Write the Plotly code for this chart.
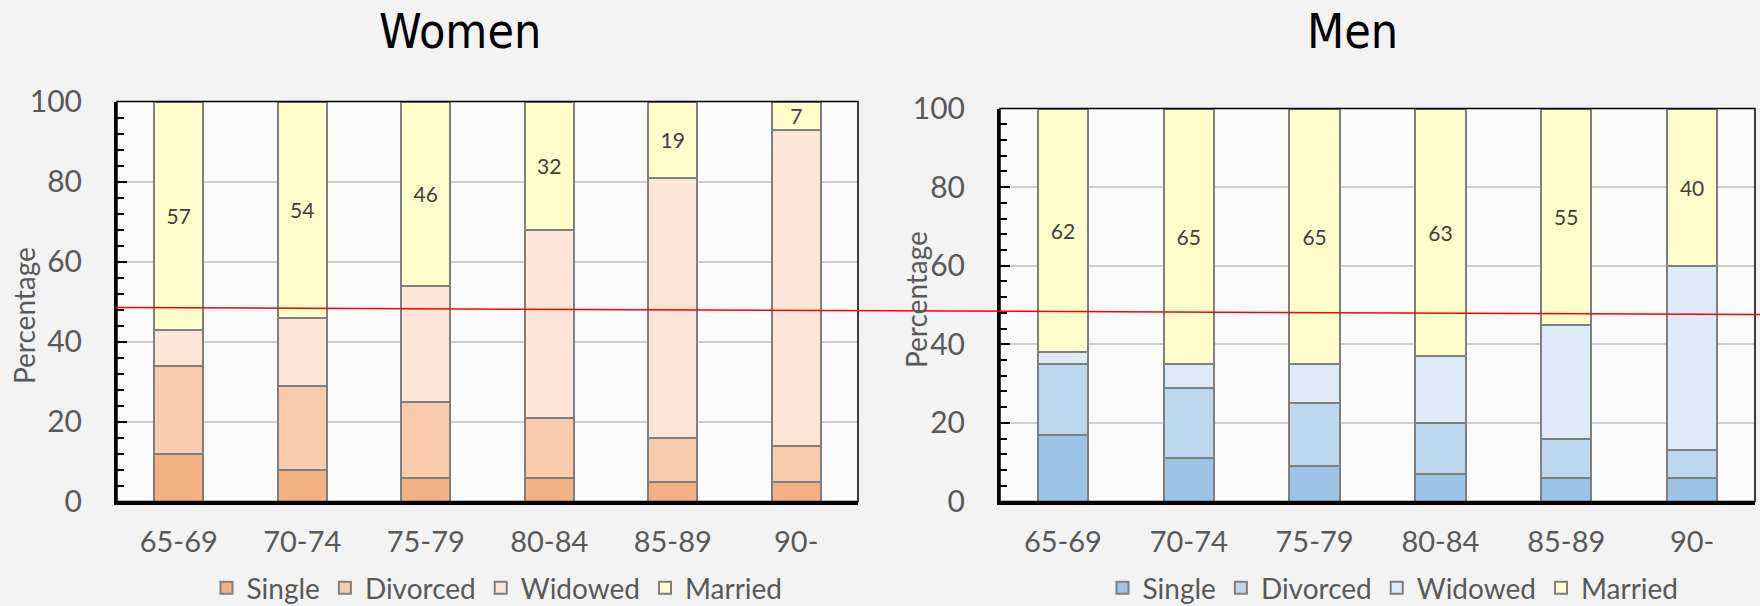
import plotly.graph_objects as go

# Age groups shown on both panels
age_groups = ["65-69", "70-74", "75-79", "80-84", "85-89", "90-"]
statuses = ["Single", "Divorced", "Widowed", "Married"]

# Marital status shares (%) by age group
women_single = [12, 8, 6, 6, 5, 5]
women_divorced = [22, 21, 19, 15, 11, 9]
women_widowed = [9, 17, 29, 47, 65, 79]
women_married = [57, 54, 46, 32, 19, 7]

men_single = [17, 11, 9, 7, 6, 6]
men_divorced = [18, 18, 16, 13, 10, 7]
men_widowed = [3, 6, 10, 17, 29, 47]
men_married = [62, 65, 65, 63, 55, 40]

y_ticks = [0, 20, 40, 60, 80, 100]

women_colors = ["#F4B183", "#F8CBAD", "#FBE5D6", "#FFFFCC"]
men_colors = ["#9DC3E6", "#BDD7EE", "#DEEBF7", "#FFFFCC"]

W, H = 1760, 606
FONT = "Lato, 'Open Sans', sans-serif"
TITLE_FONT = "'Liberation Sans Narrow', 'DejaVu Sans Condensed', Lato, sans-serif"
GREY = "#595959"


def px_x(p):
    return p / W


def px_y(p):
    return 1 - p / H


fig = go.Figure()

panels = [
    ("x", "y", "legend",
     [women_single, women_divorced, women_widowed, women_married], women_colors),
    ("x2", "y2", "legend2",
     [men_single, men_divorced, men_widowed, men_married], men_colors),
]

for xa, ya, leg, series, colors in panels:
    for name, values, color in zip(statuses, series, colors):
        is_married = name == "Married"
        fig.add_trace(go.Bar(
            x=age_groups, y=values, name=name,
            xaxis=xa, yaxis=ya, legend=leg,
            width=0.4,
            marker=dict(color=color, line=dict(color="#7F7F7F", width=2)),
            text=values if is_married else None,
            texttemplate="%{text}" if is_married else None,
            textposition="inside" if is_married else "none",
            insidetextanchor="middle",
            textangle=0,
            constraintext="none",
            textfont=dict(family=FONT, size=21, color="#404040"),
            hoverinfo="skip",
        ))

common_x = dict(
    type="category", range=[-0.5, 5.5],
    showline=True, linecolor="black", linewidth=3,
    ticks="", showgrid=False, zeroline=False,
    tickfont=dict(family=FONT, size=29, color=GREY),
    ticklabelstandoff=13,
    automargin=False,
)
common_y = dict(
    range=[0, 100], tickvals=y_ticks,
    showline=True, linecolor="black", linewidth=3,
    ticks="inside", ticklen=10, tickwidth=2, tickcolor="black",
    minor=dict(dtick=4, tick0=0, ticks="inside", ticklen=7,
               tickwidth=2, tickcolor="black", showgrid=False),
    showgrid=True, gridcolor="#D0D0D0", gridwidth=1.5,
    zeroline=False,
    tickfont=dict(family=FONT, size=30, color=GREY),
    ticklabelstandoff=26,
    automargin=False,
)

legend_style = dict(
    orientation="h", xanchor="center",
    y=px_y(588), yanchor="middle", traceorder="normal",
    bgcolor="rgba(0,0,0,0)",
    font=dict(family=FONT, size=28, color=GREY),
)

fig.update_layout(
    width=W, height=H,
    margin=dict(l=0, r=0, t=0, b=0, autoexpand=False),
    paper_bgcolor="#F3F3F3",
    plot_bgcolor="#FBFBFB",
    barmode="stack",
    xaxis=dict(common_x, domain=[px_x(117), px_x(858)], anchor="y"),
    yaxis=dict(common_y, domain=[px_y(501.5), px_y(101.5)], anchor="x"),
    xaxis2=dict(common_x, domain=[px_x(1000), px_x(1755)], anchor="y2"),
    yaxis2=dict(common_y, domain=[px_y(501.5), px_y(108.5)], anchor="x2"),
    legend=dict(legend_style, x=px_x(497)),
    legend2=dict(legend_style, x=px_x(1393)),
    showlegend=True,
)

# Thin frame around each plotting area
for xr, yr in [("x domain", "y domain"), ("x2 domain", "y2 domain")]:
    fig.add_shape(type="rect", xref=xr, yref=yr, x0=0, x1=1, y0=0, y1=1,
                  line=dict(color="black", width=1.5), layer="above")

# Red reference line across both panels
fig.add_shape(type="line", xref="paper", yref="paper",
              x0=px_x(115), y0=px_y(307.5), x1=1.0, y1=px_y(314.5),
              line=dict(color="#FF0000", width=1.5), layer="above")

# Panel titles
for label, cx in [("Women", 460), ("Men", 1352)]:
    fig.add_annotation(text=label, xref="paper", yref="paper",
                       x=px_x(cx), y=px_y(31), showarrow=False,
                       xanchor="center", yanchor="middle",
                       font=dict(family=TITLE_FONT, size=48, color="black"))

# Y axis titles
for cx, cy in [(24, 316), (916, 300)]:
    fig.add_annotation(text="Percentage", xref="paper", yref="paper",
                       x=px_x(cx), y=px_y(cy), showarrow=False,
                       textangle=-90, xanchor="center", yanchor="middle",
                       font=dict(family=FONT, size=28, color=GREY))

fig.write_html("out.html")
